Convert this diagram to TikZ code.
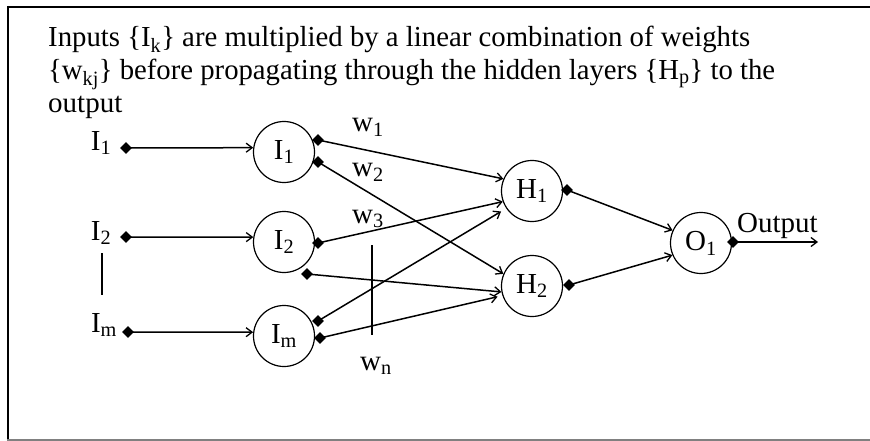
\documentclass[tikz,border=0pt]{standalone}
\usepackage{fontspec}
\setmainfont{Liberation Serif}
\usetikzlibrary{arrows.meta,shapes.geometric}
\begin{document}
\begin{tikzpicture}[x=1pt,y=-1pt,
  txt/.style={font=\fontsize{29}{33}\selectfont, inner sep=0pt},
  neuron/.style={circle, draw, line width=1.2pt, minimum size=61pt, inner sep=0pt, font=\fontsize{29}{33}\selectfont},
  dotd/.style={diamond, fill=black, inner sep=0pt, minimum size=12pt},
  conn/.style={line width=1.5pt, -{Straight Barb[length=6pt,width=9pt,line width=1.3pt]}},
  plain/.style={line width=1.5pt}]
\useasboundingbox (0,0) rectangle (870,441);
% frame
\draw[line width=2.5pt] (7,7) -- (871,7);
\draw[line width=2pt] (8,6) -- (8,441);
\draw[line width=2pt, gray] (7,439.5) -- (871,439.5);
% title
\node[txt, anchor=base west] (t1) at (48,47) {\resizebox{702pt}{\height}{Inputs \{I\textsubscript{k}\} are multiplied by a linear combination of weights}};
\node[txt, anchor=base west] (t2) at (48,80) {\resizebox{727pt}{\height}{\{w\textsubscript{kj}\} before propagating through the hidden layers \{H\textsubscript{p}\} to the}};
\node[txt, anchor=base west] (t3) at (48,113) {output};
% neurons
\node[neuron] (I1) at (284,152) {I\textsubscript{1}};
\node[neuron] (I2) at (284,242) {I\textsubscript{2}};
\node[neuron] (Im) at (284,336) {I\textsubscript{m}};
\node[neuron] (H1) at (532,191) {H\textsubscript{1}};
\node[neuron] (H2) at (532,286) {H\textsubscript{2}};
\node[neuron] (O1) at (701,243) {O\textsubscript{1}};
% input labels
\node[txt] (l1) at (101,143) {I\textsubscript{1}};
\node[txt] (l2) at (101,233) {I\textsubscript{2}};
\node[txt] (lm) at (104,325) {I\textsubscript{m}};
% dots
\node[dotd] (in1) at (126,148) {};
\node[dotd] (in2) at (126,237) {};
\node[dotd] (inm) at (128,332) {};
\node[dotd] (dI1a) at (318,140) {};
\node[dotd] (dI1b) at (318,162) {};
\node[dotd] (dI2a) at (318,243) {};
\node[dotd] (dI2b) at (307,274) {};
\node[dotd] (dIma) at (318,321) {};
\node[dotd] (dImb) at (320,338) {};
\node[dotd] (dH1) at (567,190) {};
\node[dotd] (dH2) at (569,285) {};
\node[dotd] (dO1) at (733,242) {};
\coordinate (out) at (818,242);
% input arrows
\draw[conn] (in1.center) -- (I1.172);
\draw[conn] (in2.center) -- (I2.171);
\draw[conn] (inm.center) -- (Im.173);
% hidden connections
\draw[conn] (dI1a.center) -- (H1.157);
\draw[conn] (dI1b.center) -- (H2.157);
\draw[conn] (dI2a.center) -- (H1.200);
\draw[conn] (dI2b.center) -- (H2.191);
\draw[conn, shorten >=6pt] (dIma.center) -- (H1.214);
\draw[conn, shorten >=5pt] (dImb.center) -- (H2.198);
\draw[conn] (dH1.center) -- (O1.156);
\draw[conn] (dH2.center) -- (O1.203);
\draw[conn] (dO1.center) -- (out);
% weight labels
\node[txt] (w1) at (368,127) {w\textsubscript{1}};
\node[txt] (w2) at (368,172) {w\textsubscript{2}};
\node[txt] (w3) at (368,219) {w\textsubscript{3}};
\node[txt] (wn) at (376,366) {w\textsubscript{n}};
\coordinate (vt) at (372,245);
\coordinate (vb) at (372,335);
\draw[plain] (vt) -- (vb);
\coordinate (st) at (102,253);
\coordinate (sb) at (102,295);
\draw[plain] (st) -- (sb);
% output label
\node[txt, anchor=base west] (outl) at (737,232) {Output};
\end{tikzpicture}
\end{document}
